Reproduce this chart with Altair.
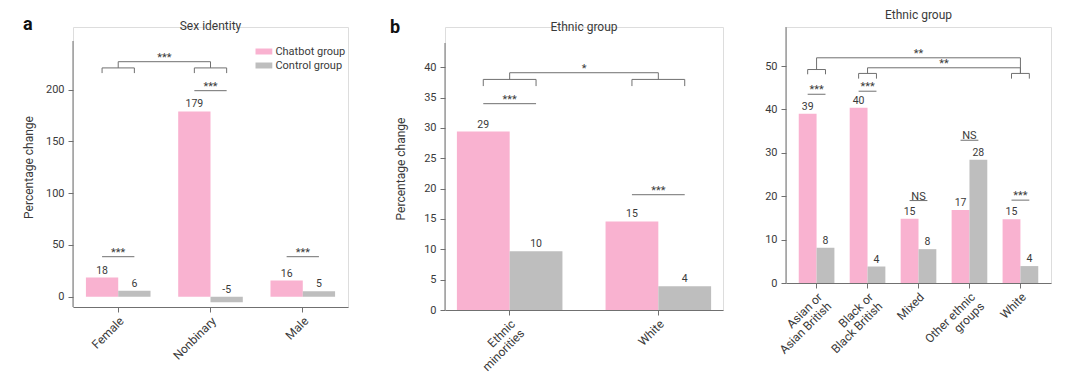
import altair as alt
import pandas as pd

FONT = "Roboto"
PINK = "#F9B2D0"
GRAY = "#BEBEBE"
TXT = "#3a3a3a"
LINE = "#707070"

GROUPS = ["Chatbot group", "Control group"]

# ---- Panel a: Sex identity ----
A_CATS = ["Female", "Nonbinary", "Male"]
A_CHAT = [18.4, 179.0, 15.6]
A_CTRL = [5.8, -5.4, 5.2]
A_PAIR = [("Female", 38.6, "***"), ("Nonbinary", 199.0, "***"), ("Male", 38.6, "***")]
A_CAPS = [("Female", 216.0, 221.0), ("Nonbinary", 216.0, 221.0)]
A_LINKS = [("Female", "Nonbinary", 227.0, "***")]

# ---- Panel b: Ethnic group (2 groups) ----
B_CATS = ["Ethnic\nminorities", "White"]
B_CHAT = [29.4, 14.6]
B_CTRL = [9.7, 3.9]
B_PAIR = [(B_CATS[0], 34.0, "***"), (B_CATS[1], 19.0, "***")]
B_CAPS = [(B_CATS[0], 36.9, 38.0), (B_CATS[1], 36.9, 38.0)]
B_LINKS = [(B_CATS[0], B_CATS[1], 39.1, "*")]

# ---- Panel c: Ethnic group (5 groups) ----
C_CATS = ["Asian or\nAsian British", "Black or\nBlack British", "Mixed",
          "Other ethnic\ngroups", "White"]
C_CHAT = [39.0, 40.4, 14.8, 16.8, 14.7]
C_CTRL = [8.1, 3.8, 7.8, 28.4, 3.9]
C_PAIR = [(C_CATS[0], 43.5, "***"), (C_CATS[1], 44.2, "***"), (C_CATS[2], 19.0, "NS"),
          (C_CATS[3], 32.9, "NS"), (C_CATS[4], 19.1, "***")]
C_CAPS = [(C_CATS[0], 48.1, 49.2), (C_CATS[1], 47.1, 48.3), (C_CATS[4], 47.1, 48.3)]
C_LINKS = [(C_CATS[0], C_CATS[4], 51.9, "**"), (C_CATS[1], C_CATS[4], 49.6, "**")]


def panel(cats, chat, ctrl, pair, caps, links, *, width, height, ydom, yticks, ext,
          title, title_y, pad_in, pad_out, ytitle=None, ytitle_pad=8,
          letter=None, letter_xy=(0, 0), legend=False, legend_y=0):
    n = len(cats)
    step = width / (n - pad_in + 2 * pad_out)
    ppu = height / (ydom[1] - ydom[0])
    full_dom = [ydom[0], ydom[1] + ext / ppu]   # room above the axis line
    full_h = height + ext

    bars_df = pd.DataFrame({"cat": cats + cats,
                            "group": [GROUPS[0]] * n + [GROUPS[1]] * n,
                            "value": chat + ctrl})
    xscale = alt.Scale(domain=cats, paddingInner=pad_in, paddingOuter=pad_out)
    xaxis = alt.Axis(title=None, labelAngle=-45, labelExpr="split(datum.label, '\\n')",
                     labelFont=FONT, labelFontSize=12, labelColor=TXT,
                     domainColor=LINE, tickColor=LINE, tickSize=5, labelPadding=3,
                     grid=False, labelLineHeight=13)
    yscale = alt.Scale(domain=full_dom, nice=False)
    yaxis_kw = dict(values=yticks, labelFont=FONT, labelFontSize=11, labelColor=TXT,
                    domain=False, tickColor=LINE, tickSize=5, labelPadding=4,
                    grid=False)
    if ytitle:
        yaxis = alt.Axis(title=ytitle, titleFont=FONT, titleFontSize=12,
                         titleFontWeight="normal", titleColor=TXT,
                         titlePadding=ytitle_pad, **yaxis_kw)
    else:
        yaxis = alt.Axis(title=None, **yaxis_kw)

    def X(field, **kw):
        return alt.X(f"{field}:N", scale=xscale, axis=xaxis, **kw)

    def Y(field):
        return alt.Y(f"{field}:Q", scale=yscale, axis=yaxis)

    xoff = alt.XOffset("group:N", scale=alt.Scale(domain=GROUPS, paddingInner=0, paddingOuter=0))

    color_kw = dict(scale=alt.Scale(domain=GROUPS, range=[PINK, GRAY]))
    if legend:
        leg = alt.Legend(title=None, orient="none", legendX=185.4, legendY=legend_y,
                         symbolType="M-2.8,-1L2.8,-1L2.8,1L-2.8,1Z", symbolSize=36,
                         symbolStrokeWidth=0, labelFont=FONT, labelFontSize=11,
                         labelColor=TXT, labelOffset=6.0, rowPadding=2, padding=0)
        color = alt.Color("group:N", legend=leg, **color_kw)
    else:
        color = alt.Color("group:N", legend=None, **color_kw)

    rule_kw = dict(color=LINE, strokeWidth=1)
    star_kw = dict(font=FONT, fontSize=11, color=TXT, baseline="alphabetic", dy=-1)

    # y axis line (only up to the visible top of the axis)
    ax_df = pd.DataFrame({"y1": [ydom[0]], "y2": [ydom[1]]})
    axline = alt.Chart(ax_df).mark_rule(**rule_kw).encode(
        x=alt.value(0), y=Y("y1"), y2="y2:Q")

    bars = alt.Chart(bars_df).mark_bar().encode(x=X("cat"), xOffset=xoff, y=Y("value"), color=color)

    vals = alt.Chart(bars_df).transform_calculate(
        ly="max(datum.value, 0)", lbl="'' + round(datum.value)"
    ).mark_text(font=FONT, fontSize=10.5, color=TXT, dy=-4, baseline="alphabetic").encode(
        x=X("cat"), xOffset=xoff, y=Y("ly"), text="lbl:N")

    hseg_df = pd.DataFrame({"cat": [p[0] for p in pair] + [c[0] for c in caps],
                            "y": [p[1] for p in pair] + [c[2] for c in caps]})
    hseg = alt.Chart(hseg_df).mark_rule(**rule_kw).encode(
        x=X("cat", bandPosition=0.25), x2=alt.X2("cat", bandPosition=0.75), y=Y("y"))

    pair_df = pd.DataFrame({"cat": [p[0] for p in pair], "y": [p[1] for p in pair],
                            "label": [p[2] for p in pair]})
    pair_txt = alt.Chart(pair_df).mark_text(**star_kw).encode(x=X("cat"), y=Y("y"), text="label:N")

    layers = [bars, axline, vals, hseg, pair_txt]

    if caps:
        caps_df = pd.DataFrame({"cat": [c[0] for c in caps], "y1": [c[1] for c in caps],
                                "y2": [c[2] for c in caps]})
        for bp in (0.25, 0.75):
            layers.append(alt.Chart(caps_df).mark_rule(**rule_kw).encode(
                x=X("cat", bandPosition=bp), y=Y("y1"), y2="y2:Q"))
        capbar = {c[0]: c[2] for c in caps}
        stem_rows = []
        for a, b, top, _ in links:
            stem_rows.append((a, capbar[a], top))
            stem_rows.append((b, capbar[b], top))
        stems_df = pd.DataFrame(stem_rows, columns=["cat", "y1", "y2"])
        layers.append(alt.Chart(stems_df).mark_rule(**rule_kw).encode(
            x=X("cat", bandPosition=0.5), y=Y("y1"), y2="y2:Q"))
        links_df = pd.DataFrame({"a": [l[0] for l in links], "b": [l[1] for l in links],
                                 "y": [l[2] for l in links], "label": [l[3] for l in links]})
        layers.append(alt.Chart(links_df).mark_rule(**rule_kw).encode(
            x=X("a", bandPosition=0.5), x2=alt.X2("b", bandPosition=0.5), y=Y("y")))
        for i, (a, b, top, lab) in enumerate(links):
            k = cats.index(b) - cats.index(a)
            kw = dict(star_kw)
            kw["dx"] = k * step / 2
            layers.append(alt.Chart(links_df.iloc[[i]]).mark_text(**kw).encode(
                x=X("a", bandPosition=0.5), y=Y("y"), text="label:N"))

    one = pd.DataFrame({"t": [title]})
    layers.append(alt.Chart(one).mark_text(font=FONT, fontSize=12, color=TXT, align="center",
                                           baseline="alphabetic").encode(
        x=alt.value(width / 2), y=alt.value(title_y), text="t:N"))
    # invisible spacer fixing the top extent of every panel to the same value
    layers.append(alt.Chart(one).mark_rule(opacity=0).encode(
        x=alt.value(0), y=alt.value(-18), y2=alt.value(-17)))

    if letter:
        ldf = pd.DataFrame({"t": [letter]})
        layers.append(alt.Chart(ldf).mark_text(font=FONT, fontSize=18, fontWeight="bold",
                                               color="#111111", align="left",
                                               baseline="alphabetic").encode(
            x=alt.value(letter_xy[0]), y=alt.value(letter_xy[1]), text="t:N"))

    return alt.layer(*layers).properties(width=width, height=full_h)


pa = panel(A_CATS, A_CHAT, A_CTRL, A_PAIR, A_CAPS, A_LINKS, width=275, height=266,
           ydom=[-10, 247], yticks=[0, 50, 100, 150, 200], ext=14, title="Sex identity",
           title_y=3, pad_in=0.30, pad_out=0.14, ytitle="Percentage change",
           ytitle_pad=10, letter="a", letter_xy=(-50, 3), legend=True, legend_y=19)
pb = panel(B_CATS, B_CHAT, B_CTRL, B_PAIR, B_CAPS, B_LINKS, width=278, height=267,
           ydom=[0, 44], yticks=list(range(0, 45, 5)), ext=16, title="Ethnic group",
           title_y=4, pad_in=0.29, pad_out=0.08, ytitle="Percentage change",
           ytitle_pad=16, letter="b", letter_xy=(-55, 6))
pc = panel(C_CATS, C_CHAT, C_CTRL, C_PAIR, C_CAPS, C_LINKS, width=265, height=256,
           ydom=[0, 59], yticks=[0, 10, 20, 30, 40, 50], ext=0, title="Ethnic group",
           title_y=-8.5, pad_in=0.30, pad_out=0.25)

chart = alt.concat(pa, pb, pc, columns=3, spacing=40, align="none").resolve_scale(
    color="independent", xOffset="independent", x="independent", y="independent"
).properties(
    padding={"left": 13, "top": 0, "right": 5, "bottom": 5}
).configure_view(stroke=None).configure(font=FONT)

chart.save("out.html", embed_options={"renderer": "svg", "actions": False})
